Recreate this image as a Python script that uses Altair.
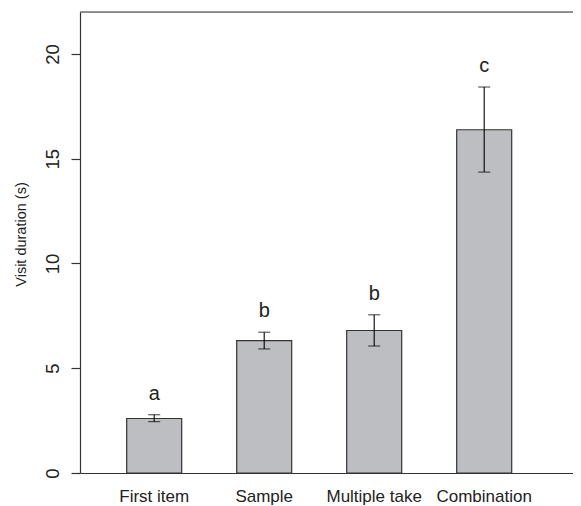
import altair as alt
import pandas as pd

categories = ["First item", "Sample", "Multiple take", "Combination"]
means = [2.60, 6.32, 6.80, 16.38]
err_low = [2.45, 5.92, 6.06, 14.36]
err_high = [2.78, 6.72, 7.55, 18.42]
letters = ["a", "b", "b", "c"]
y_ticks = [0, 5, 10, 15, 20]

df = pd.DataFrame({
    "cat": categories,
    "mean": means,
    "lo": err_low,
    "hi": err_high,
    "letter": letters,
})

FONT = "Liberation Sans"
W, H = 493, 461

xscale = alt.Scale(domain=categories, paddingInner=0.5, paddingOuter=0.4909, align=0.4324)
yscale = alt.Scale(domain=[0, 22], nice=False, zero=True)

x_enc = alt.X("cat:N", scale=xscale, sort=categories,
              axis=alt.Axis(title=None, labelAngle=0, ticks=False, domain=True,
                            domainColor="#333333", domainWidth=1.2,
                            labelFont=FONT, labelFontSize=17, labelColor="#222222",
                            labelPadding=15))

base = alt.Chart(df)

bars = base.mark_bar(color="#BDBEC2", stroke="#333333", strokeWidth=1.2).encode(
    x=x_enc,
    y=alt.Y("mean:Q", scale=yscale,
            axis=alt.Axis(title="Visit duration (s)", values=y_ticks, grid=False,
                          labelAngle=-90, labelAlign="center", labelBaseline="bottom",
                          labelFont=FONT, labelFontSize=18.5, labelColor="#222222",
                          labelPadding=9, tickSize=9, tickColor="#333333",
                          tickWidth=1.2, domainColor="#333333", domainWidth=1.2,
                          titleFont=FONT, titleFontSize=14.5, titleFontWeight="normal",
                          titleColor="#222222", titlePadding=15, titleY=222)),
)

stems = base.mark_rule(color="black", strokeWidth=1.1).encode(
    x=alt.X("cat:N", scale=xscale, sort=categories),
    y=alt.Y("lo:Q", scale=yscale),
    y2="hi:Q",
)

caps_hi = base.mark_tick(color="black", size=12, thickness=1.1).encode(
    x=alt.X("cat:N", scale=xscale, sort=categories),
    y=alt.Y("hi:Q", scale=yscale),
)
caps_lo = base.mark_tick(color="black", size=12, thickness=1.1).encode(
    x=alt.X("cat:N", scale=xscale, sort=categories),
    y=alt.Y("lo:Q", scale=yscale),
)

labels = base.transform_calculate(ly="datum.hi + 1.0").mark_text(
    font=FONT, fontSize=20, color="#222222", baseline="middle", align="center"
).encode(
    x=alt.X("cat:N", scale=xscale, sort=categories),
    y=alt.Y("ly:Q", scale=yscale),
    text="letter:N",
)

top_line = alt.Chart(pd.DataFrame({"k": [0]})).mark_rule(color="#333333", strokeWidth=1.2).encode(
    x=alt.value(0), x2=alt.value(W), y=alt.value(0)
)

chart = alt.layer(bars, stems, caps_hi, caps_lo, labels, top_line).properties(
    width=W, height=H,
    autosize=alt.AutoSizeParams(type="none"),
    padding={"left": 72, "top": 4, "right": 0, "bottom": 36},
).configure_view(stroke=None).configure(background="white")

chart.save("out.html", embed_options={"renderer": "svg", "actions": False})
